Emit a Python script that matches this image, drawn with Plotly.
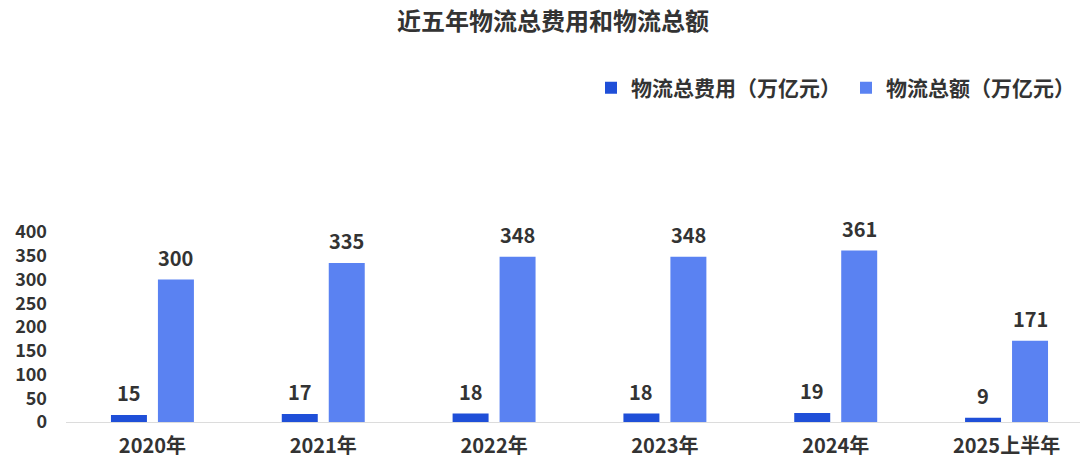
import plotly.graph_objects as go

categories = ["2020年", "2021年", "2022年", "2023年", "2024年", "2025上半年"]
cost_values = [15, 17, 18, 18, 19, 9]
total_values = [300, 335, 348, 348, 361, 171]
series_names = ["物流总费用（万亿元）", "物流总额（万亿元）"]
y_ticks = [0, 50, 100, 150, 200, 250, 300, 350, 400]

FONT = "Noto Sans CJK SC"
DARK = "#333333"
BARGAP = 0.45
CAT_PX = 170.8
OFFSET_PX = (1 - BARGAP) / 4 * CAT_PX

fig = go.Figure()
fig.add_trace(go.Bar(
    x=categories, y=cost_values, name=series_names[0],
    marker_color="#1f4fd8", marker_line_width=0,
))
fig.add_trace(go.Bar(
    x=categories, y=total_values, name=series_names[1],
    marker_color="#5a82f2", marker_line_width=0,
))

label_font = dict(family=FONT, size=20, color=DARK, weight="bold")
for cat, v in zip(categories, cost_values):
    fig.add_annotation(x=cat, y=v, text=str(v), showarrow=False,
                       xshift=-OFFSET_PX, yshift=22, yanchor="middle",
                       font=label_font)
for cat, v in zip(categories, total_values):
    fig.add_annotation(x=cat, y=v, text=str(v), showarrow=False,
                       xshift=OFFSET_PX, yshift=22, yanchor="middle",
                       font=label_font)

fig.update_layout(
    width=1080, height=468,
    paper_bgcolor="white", plot_bgcolor="white",
    margin=dict(l=66, r=0, t=232, b=46, autoexpand=False),
    barmode="group", bargap=BARGAP, bargroupgap=0.234,
    title=dict(text="近五年物流总费用和物流总额", x=553 / 1080, xanchor="center",
               xref="container", yref="container",
               y=1 - 22 / 468, yanchor="middle", automargin=False,
               font=dict(family=FONT, size=24, color=DARK, weight="bold")),
    legend=dict(orientation="h", x=1, xanchor="right",
                yref="container", y=1 - 88 / 468, yanchor="middle",
                font=dict(family=FONT, size=21, color=DARK, weight="bold"),
                itemwidth=30, traceorder="normal"),
    showlegend=True,
)
fig.update_xaxes(
    range=[-0.506, 5.43], showline=True, linecolor="#dcdcdc", linewidth=1,
    ticks="", showgrid=False, automargin=False, ticklabelstandoff=6,
    tickfont=dict(family=FONT, size=20, color=DARK, weight="bold"),
)
fig.update_yaxes(
    range=[0, 400], tickvals=y_ticks, showgrid=False, zeroline=False,
    showline=False, ticks="", automargin=False, ticklabelstandoff=18,
    tickfont=dict(family=FONT, size=18, color=DARK, weight="bold"),
)

fig.write_html("out.html",
               config={"displayModeBar": False},
               post_script="document.body.style.margin='0px';"
                           "document.body.style.overflow='hidden';")
